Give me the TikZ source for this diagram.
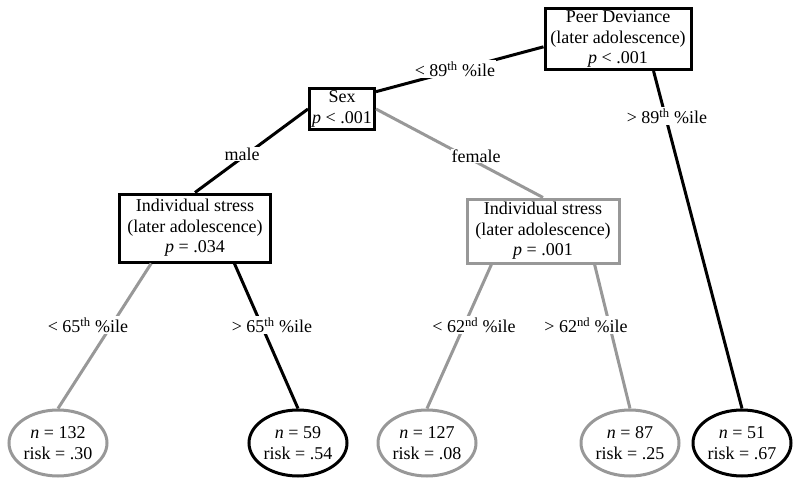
\documentclass[tikz,border=0pt]{standalone}
\usepackage{fontspec}
\setmainfont{Liberation Serif}
\usetikzlibrary{shapes.geometric}
\definecolor{treegray}{RGB}{152,152,152}
\begin{document}
\begin{tikzpicture}[x=1pt,y=-1pt,
  every node/.style={font=\fontsize{18}{20.5}\selectfont},
  splitbox/.style={draw, line width=3pt, align=center, inner sep=1pt},
  leaf/.style={ellipse, draw, line width=3pt, align=center, minimum width=98pt, minimum height=66pt, inner sep=0pt},
  edge/.style={line width=3pt},
  lab/.style={fill=white, inner sep=1pt}]
\useasboundingbox (0,0) rectangle (800,484);
% split nodes
\node[splitbox, minimum width=146pt, minimum height=61pt] (peer) at (618,39) {Peer Deviance\\(later adolescence)\\\textit{p} < .001};
\node[splitbox, minimum width=65pt, minimum height=41pt] (sex) at (342,109) {Sex\\\textit{p} < .001};
\node[splitbox, minimum width=151pt, minimum height=68pt] (isl) at (195,228) {Individual stress\\(later adolescence)\\\textit{p} = .034};
\node[splitbox, draw=treegray, minimum width=152pt, minimum height=64pt] (isr) at (543,231) {Individual stress\\(later adolescence)\\\textit{p} = .001};
% leaves
\node[leaf, draw=treegray] (l1) at (58,443) {\textit{n} = 132\\risk = .30};
\node[leaf] (l2) at (298,443) {\textit{n} = 59\\risk = .54};
\node[leaf, draw=treegray] (l3) at (427,443) {\textit{n} = 127\\risk = .08};
\node[leaf, draw=treegray] (l4) at (630,443) {\textit{n} = 87\\risk = .25};
\node[leaf] (l5) at (742,443) {\textit{n} = 51\\risk = .67};
% edges
\draw[edge] (peer.186) -- (sex.27);
\draw[edge] (peer.-42) -- (l5.north);
\draw[edge] (sex.west) -- (isl.north);
\draw[edge, treegray] (sex.east) -- (isr.north);
\draw[edge, treegray] (isl.219) -- (l1.north);
\draw[edge] (isl.-42) -- (l2.north);
\draw[edge, treegray] (isr.213) -- (l3.north);
\draw[edge, treegray] (isr.-33) -- (l4.north);
% labels
\node[lab] (e1) at (455,69) {< 89\textsuperscript{th} \%ile};
\node[lab] (e2) at (667,116) {> 89\textsuperscript{th} \%ile};
\node[lab] (e3) at (242,154) {male};
\node[lab] (e4) at (476,156) {female};
\node[lab] (e5) at (88,325) {< 65\textsuperscript{th} \%ile};
\node[lab] (e6) at (272,325) {> 65\textsuperscript{th} \%ile};
\node[lab] (e7) at (474,325) {< 62\textsuperscript{nd} \%ile};
\node[lab] (e8) at (586,325) {> 62\textsuperscript{nd} \%ile};
\end{tikzpicture}
\end{document}
